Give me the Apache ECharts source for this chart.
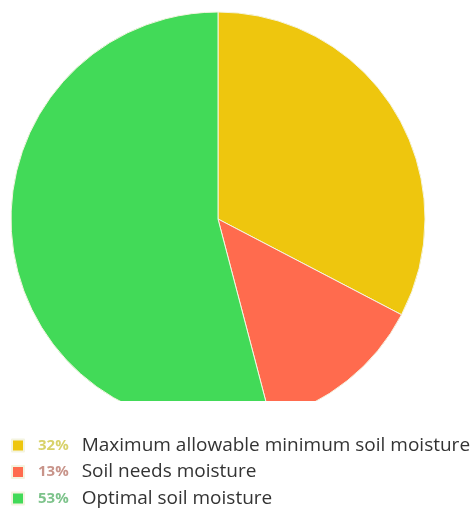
<!DOCTYPE html>
<html>
<head>
<meta charset="utf-8">
<script src="https://cdn.jsdelivr.net/npm/echarts@6/dist/echarts.min.js"></script>
<style>
  html, body { margin: 0; padding: 0; background: #fff; }
  #chart { width: 473px; height: 509px; }
</style>
</head>
<body>
<div id="chart"></div>
<script>
const names = ['Maximum allowable minimum soil moisture', 'Soil needs moisture', 'Optimal soil moisture'];
const values = [32, 13, 53];
const colors = ['#EEC60E', '#FF6B4E', '#42DA58'];
const pctColors = ['#D8D26A', '#C8948A', '#7DC38B'];

const chart = echarts.init(document.getElementById('chart'));

const pctStyle = c => ({ color: c, fontSize: 15, fontWeight: 'bold', fontFamily: 'Open Sans', padding: [0, 13, 0, 9], lineHeight: 18 });

chart.setOption({
    animation: false,
    color: colors,
    legend: {
        orient: 'vertical',
        left: 11,
        top: 436,
        height: 120,
        padding: 0,
        itemWidth: 12,
        itemHeight: 12,
        itemGap: 7.5,
        icon: 'rect',
        formatter: function (name) {
            const i = names.indexOf(name);
            return '{p' + i + '|' + values[i] + '%}{n|' + name + '}';
        },
        textStyle: {
            rich: {
                p0: pctStyle(pctColors[0]),
                p1: pctStyle(pctColors[1]),
                p2: pctStyle(pctColors[2]),
                n: { color: '#333', fontSize: 19, fontFamily: 'Open Sans', lineHeight: 18 }
            }
        }
    },
    graphic: [{
        type: 'rect',
        z: 100,
        shape: { x: 0, y: 401, width: 473, height: 30 },
        style: { fill: '#fff' }
    }],
    series: [{
        type: 'pie',
        radius: 207,
        center: [218, 219],
        startAngle: 90,
        label: { show: false },
        labelLine: { show: false },
        itemStyle: { borderColor: '#f4f4e0', borderWidth: 1 },
        data: names.map((n, i) => ({ name: n, value: values[i] }))
    }]
});
</script>
</body>
</html>
